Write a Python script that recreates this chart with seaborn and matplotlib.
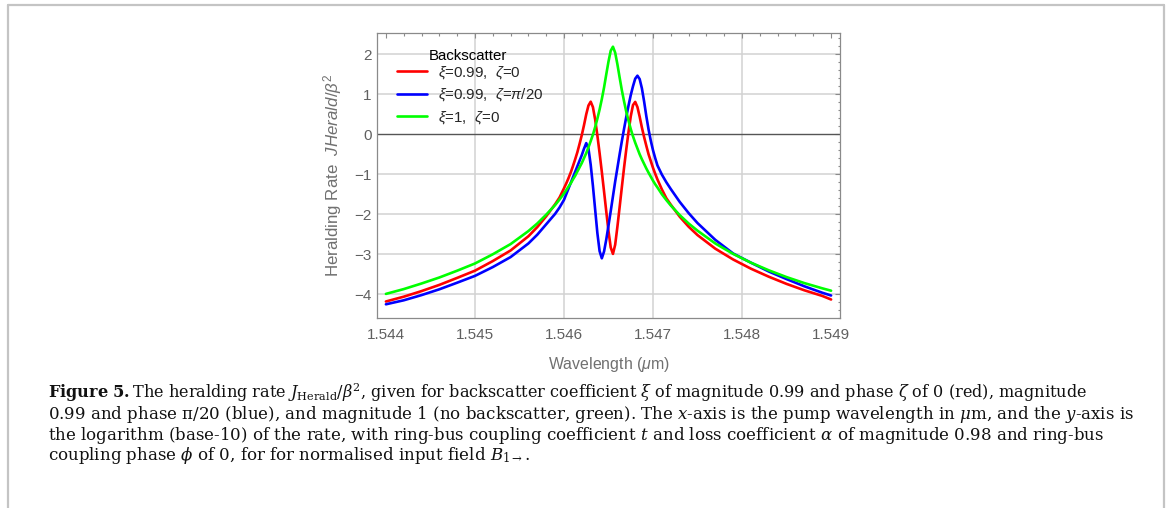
import matplotlib
matplotlib.use("Agg")
import matplotlib.pyplot as plt
from matplotlib.lines import Line2D
from matplotlib.ticker import MultipleLocator
import pandas as pd
import seaborn as sns

# Pump wavelength (um)
wavelength = [
    1.5440, 1.5442, 1.5444, 1.5446, 1.5448, 1.5450, 1.5452, 1.5454, 1.5456, 1.5457, 1.5458, 1.5459, 1.54595,
    1.546000, 1.546025, 1.546050, 1.546075, 1.546100, 1.546125, 1.546150, 1.546175, 1.546200, 1.546225,
    1.546250, 1.546275, 1.546300, 1.546325, 1.546350, 1.546375, 1.546400, 1.546425, 1.546450, 1.546475,
    1.546500, 1.546525, 1.546550, 1.546575, 1.546600, 1.546625, 1.546650, 1.546675, 1.546700, 1.546725,
    1.546750, 1.546775, 1.546800, 1.546825, 1.546850, 1.546875, 1.546900, 1.546925, 1.546950, 1.546975,
    1.547000, 1.547025, 1.547050,
    1.54710, 1.54715, 1.5472, 1.5473, 1.5474, 1.5475, 1.5477, 1.5479, 1.5481, 1.5483, 1.5485, 1.5487, 1.5489, 1.5490,
]

# log10 heralding rate, xi = 0.99, zeta = 0
rate_red = [
    -4.18, -4.06, -3.92, -3.765, -3.59, -3.41, -3.17, -2.905, -2.55, -2.32, -2.05, -1.75, -1.58,
    -1.35, -1.23, -1.10, -0.96, -0.80, -0.63, -0.45, -0.24, -0.02, 0.23,
    0.50, 0.72, 0.815, 0.68, 0.37, -0.03, -0.47, -0.94, -1.43, -1.93,
    -2.42, -2.83, -2.99, -2.76, -2.31, -1.82, -1.32, -0.83, -0.37, 0.06,
    0.45, 0.73, 0.81, 0.68, 0.44, 0.17, -0.07, -0.29, -0.50, -0.67,
    -0.84, -0.99, -1.13,
    -1.38, -1.60, -1.76, -2.06, -2.31, -2.52, -2.86, -3.13, -3.36, -3.56, -3.74, -3.90, -4.04, -4.13,
]

# log10 heralding rate, xi = 0.99, zeta = pi/20
rate_blue = [
    -4.25, -4.15, -4.02, -3.875, -3.71, -3.54, -3.32, -3.07, -2.73, -2.51, -2.25, -1.99, -1.83,
    -1.64, -1.50, -1.36, -1.22, -1.08, -0.94, -0.80, -0.66, -0.52, -0.36,
    -0.22, -0.36, -0.76, -1.29, -1.88, -2.47, -2.92, -3.10, -2.93, -2.63,
    -2.28, -1.92, -1.55, -1.18, -0.84, -0.50, -0.17, 0.14, 0.44, 0.72,
    0.98, 1.20, 1.39, 1.465, 1.38, 1.15, 0.82, 0.45, 0.12, -0.16,
    -0.40, -0.60, -0.78,
    -1.01, -1.20, -1.37, -1.69, -1.97, -2.22, -2.64, -2.98, -3.21, -3.43, -3.62, -3.80, -3.96, -4.03,
]

# log10 heralding rate, xi = 1, zeta = 0 (no backscatter)
rate_green = [
    -3.99, -3.87, -3.73, -3.58, -3.41, -3.23, -3.00, -2.745, -2.42, -2.23, -2.01, -1.77, -1.63,
    -1.48, -1.40, -1.31, -1.23, -1.13, -1.04, -0.93, -0.825, -0.72, -0.595,
    -0.47, -0.325, -0.17, -0.01, 0.18, 0.39, 0.62, 0.88, 1.17, 1.50,
    1.82, 2.09, 2.19, 2.04, 1.75, 1.42, 1.10, 0.82, 0.56, 0.34,
    0.13, -0.05, -0.21, -0.355, -0.50, -0.625, -0.74, -0.855, -0.96, -1.06,
    -1.16, -1.25, -1.33,
    -1.50, -1.645, -1.78, -2.02, -2.23, -2.41, -2.73, -2.99, -3.21, -3.40, -3.57, -3.72, -3.85, -3.91,
]

series_labels = [
    r"$\xi$=0.99,  $\zeta$=0",
    r"$\xi$=0.99,  $\zeta$=$\pi$/20",
    r"$\xi$=1,  $\zeta$=0",
]
series_colors = ["#ff0000", "#0000ff", "#00ff00"]

x_ticks = [1.544, 1.545, 1.546, 1.547, 1.548, 1.549]
x_grid = [1.545, 1.546, 1.547, 1.548]
y_ticks = [-4, -3, -2, -1, 0, 1, 2]
y_grid = [-4, -3, -2, -1, 1, 2]

legend_title = "Backscatter"
x_label = r"Wavelength ($\mu$m)"
y_label = r"Heralding Rate  $JHerald/\beta^2$"

caption_lines = [
    r"$\mathbf{Figure\ 5.}$The heralding rate $J_{\mathrm{Herald}}/\beta^2$, given for backscatter coefficient $\xi$ "
    r"of magnitude 0.99 and phase $\zeta$ of 0 (red), magnitude",
    r"0.99 and phase π/20 (blue), and magnitude 1 (no backscatter, green). The $x$-axis is the pump wavelength "
    r"in $\mu$m, and the $y$-axis is",
    r"the logarithm (base-10) of the rate, with ring-bus coupling coefficient $t$ and loss coefficient $\alpha$ "
    r"of magnitude 0.98 and ring-bus",
    r"coupling phase $\phi$ of 0, for for normalised input field $B_{1\rightarrow}$.",
]

# ---------------------------------------------------------------- style
sns.set_theme(style="white")
plt.rcParams["font.family"] = ["Liberation Sans", "DejaVu Sans"]
plt.rcParams["mathtext.fontset"] = "custom"
plt.rcParams["mathtext.rm"] = "Liberation Sans"
plt.rcParams["mathtext.it"] = "Liberation Sans:italic"
plt.rcParams["mathtext.bf"] = "Liberation Sans:bold"

W, H = 1167, 508
fig = plt.figure(figsize=(W / 100, H / 100), dpi=100)
fig.patch.set_facecolor("white")


def fx(px):
    return px / W


def fy(py):
    return 1 - py / H


ax_left, ax_right, ax_top, ax_bottom = 377, 840, 32.7, 318.3
ax = fig.add_axes([fx(ax_left), fy(ax_bottom), fx(ax_right - ax_left), (ax_bottom - ax_top) / H])

# ---------------------------------------------------------------- data
frames = []
for label, values in zip(series_labels, [rate_red, rate_blue, rate_green]):
    frames.append(pd.DataFrame({"wavelength": wavelength, "rate": values, "series": label}))
df = pd.concat(frames, ignore_index=True)

# grid and zero axis beneath the curves
for gx in x_grid:
    ax.axvline(gx, color="#d2d2d2", lw=1.1, zorder=0)
for gy in y_grid:
    ax.axhline(gy, color="#d2d2d2", lw=1.1, zorder=0)
ax.axhline(0, color="#555555", lw=1.0, zorder=1)

sns.lineplot(
    data=df, x="wavelength", y="rate", hue="series",
    hue_order=series_labels, palette=dict(zip(series_labels, series_colors)),
    estimator=None, sort=False, lw=1.9, legend=False, ax=ax, zorder=3,
)

ax.set_xlim(1.5439, 1.5491)
ax.set_ylim(-4.6, 2.54)
ax.set_xlabel("")
ax.set_ylabel("")

ax.set_xticks(x_ticks)
ax.set_xticklabels([f"{v:.3f}" for v in x_ticks])
ax.set_yticks(y_ticks)
ax.xaxis.set_minor_locator(MultipleLocator(0.0002))
ax.yaxis.set_minor_locator(MultipleLocator(0.2))
ax.tick_params(which="both", direction="in", top=True, right=True,
               color="#8a8a8a", width=0.8, labelcolor="#606060", labelsize=11)
ax.tick_params(which="major", length=3.4)
ax.tick_params(which="minor", length=1.8)
ax.tick_params(axis="x", which="major", pad=7)
ax.tick_params(axis="y", which="major", pad=4)
for sp in ax.spines.values():
    sp.set_visible(True)
    sp.set_color("#8a8a8a")
    sp.set_linewidth(0.9)

# axis labels
fig.text(fx(608.5), fy(364), x_label, ha="center", va="center", color="#707070", fontsize=11.4)
fig.text(fx(333), fy(175), y_label, ha="center", va="center", rotation=90, color="#707070", fontsize=12.2)

# legend
handles = [Line2D([], [], color=c, lw=1.9) for c in series_colors]
ax.legend(
    handles, series_labels, loc="upper left", frameon=False,
    bbox_to_anchor=(fx(397), fy(64)), bbox_transform=fig.transFigure,
    borderpad=0, borderaxespad=0, handlelength=2.0, handletextpad=0.7,
    labelspacing=0.36, fontsize=10.8,
)
fig.text(fx(429), fy(56), legend_title, ha="left", va="center", color="black", fontsize=10.8)

# ---------------------------------------------------------------- caption
cap_kw = dict(fontfamily=["DejaVu Serif"], math_fontfamily="dejavuserif",
              color="#111111", ha="left", va="baseline")
renderer = fig.canvas.get_renderer()


def fitted_size(text, width, base=11):
    probe = fig.text(0, 0, text, fontsize=base, **cap_kw)
    w = probe.get_window_extent(renderer).width
    probe.remove()
    return base * width / w


cap_left = 48
body_size = fitted_size(caption_lines[1], 1130 - cap_left)
first_size = min(body_size, fitted_size(caption_lines[0], 1083 - cap_left))
for i, line in enumerate(caption_lines):
    size = first_size if i == 0 else body_size
    fig.text(fx(cap_left), fy(398.5 + 20.5 * i), line, fontsize=size, **cap_kw)

# ---------------------------------------------------------------- page frame
frame_kw = dict(color="#c4c4c4", lw=1.6, transform=fig.transFigure)
fig.add_artist(Line2D([fx(8), fx(8)], [fy(5), 0], **frame_kw))
fig.add_artist(Line2D([fx(8), fx(1164)], [fy(5), fy(5)], **frame_kw))
fig.add_artist(Line2D([fx(1164), fx(1164)], [fy(5), 0], **frame_kw))

fig.savefig("out.png", dpi=100, facecolor="white")
